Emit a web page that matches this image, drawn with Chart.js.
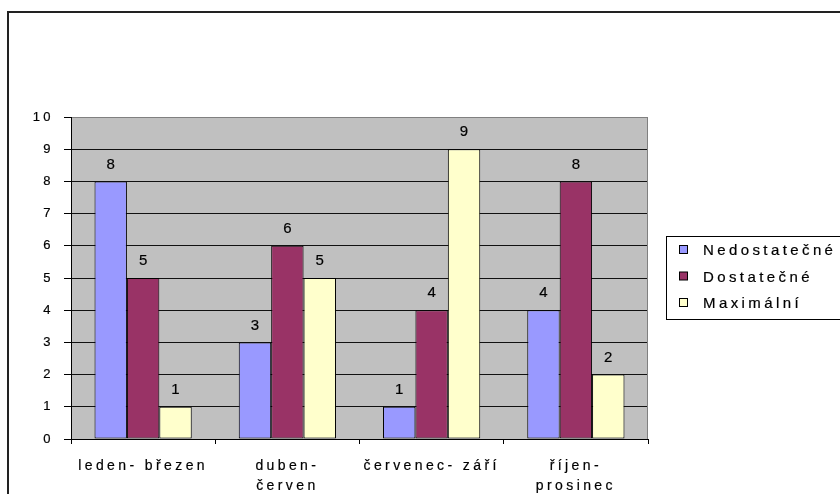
<!DOCTYPE html>
<html>
<head>
<meta charset="utf-8">
<script src="https://cdn.jsdelivr.net/npm/chart.js@4/dist/chart.umd.min.js"></script>
<style>
  html, body { margin: 0; padding: 0; background: #fff; }
  #wrap { width: 840px; height: 494px; }
</style>
</head>
<body>
<div id="wrap"><canvas id="chart" width="840" height="494"></canvas></div>
<script>
// quarters (two labels wrap onto a second line)
var categories = ['leden- březen', ['duben-', 'červen'], 'červenec- září', ['říjen-', 'prosinec']];
var nedostatecne = [8, 3, 1, 4];
var dostatecne = [5, 6, 4, 8];
var maximalni = [1, 5, 9, 2];
var seriesNames = ['Nedostatečné', 'Dostatečné', 'Maximální'];
var seriesColors = ['#9999FF', '#993366', '#FFFFCC'];
var yMin = 0, yMax = 10, yStep = 1;

var FONT = '"Liberation Sans", Arial, sans-serif';
var SPACING = '3.4px';
var STROKE = 0.2;

Chart.defaults.font.family = FONT;
Chart.defaults.color = '#000';

// wide Excel-like letter spacing; canvas resets its state on resize so set it again
var spacing = {
  id: 'spacing',
  beforeUpdate: function (chart) { chart.ctx.letterSpacing = SPACING; },
  beforeDraw: function (chart) { chart.ctx.letterSpacing = SPACING; }
};

// gray plot area, outer frame and the gray right edge
var frame = {
  id: 'frame',
  beforeDraw: function (chart) {
    var ctx = chart.ctx, a = chart.chartArea;
    ctx.save();
    ctx.fillStyle = '#C0C0C0';
    ctx.fillRect(a.left, a.top, a.right - a.left, a.bottom - a.top);
    ctx.strokeStyle = '#222';
    ctx.lineWidth = 2;
    ctx.strokeRect(8, 12, 1000, 1000);
    ctx.restore();
  },
  beforeDatasetsDraw: function (chart) {
    var ctx = chart.ctx, a = chart.chartArea;
    ctx.save();
    ctx.strokeStyle = '#808080';
    ctx.lineWidth = 1;
    ctx.beginPath();
    ctx.moveTo(Math.round(a.right) - 0.5, a.top);
    ctx.lineTo(Math.round(a.right) - 0.5, a.bottom);
    ctx.stroke();
    ctx.restore();
  }
};

function heavyText(ctx, text, x, y) {
  ctx.fillText(text, x, y);
  ctx.lineWidth = STROKE;
  ctx.strokeStyle = '#000';
  ctx.strokeText(text, x, y);
}

// value above each bar
var valueLabels = {
  id: 'valueLabels',
  afterDatasetsDraw: function (chart) {
    var ctx = chart.ctx;
    ctx.save();
    ctx.letterSpacing = SPACING;
    ctx.font = '15px ' + FONT;
    ctx.fillStyle = '#000';
    ctx.textAlign = 'center';
    ctx.textBaseline = 'middle';
    chart.data.datasets.forEach(function (ds, i) {
      chart.getDatasetMeta(i).data.forEach(function (bar, j) {
        heavyText(ctx, String(ds.data[j]), bar.x + 1.7, bar.y - 17);
      });
    });
    ctx.restore();
  }
};

// boxed legend on the right, cut by the edge of the page
var boxLegend = {
  id: 'boxLegend',
  afterDraw: function (chart) {
    var ctx = chart.ctx;
    ctx.save();
    ctx.letterSpacing = SPACING;
    ctx.fillStyle = '#fff';
    ctx.fillRect(666, 236, 300, 83);
    ctx.strokeStyle = '#000';
    ctx.lineWidth = 1;
    ctx.strokeRect(666.5, 236.5, 300, 83);
    ctx.font = '15px ' + FONT;
    ctx.textBaseline = 'middle';
    ctx.textAlign = 'left';
    chart.data.datasets.forEach(function (ds, i) {
      var y = 250 + i * 26.5;
      ctx.fillStyle = ds.backgroundColor;
      ctx.fillRect(679.5, y - 4.5, 8, 8);
      ctx.lineWidth = 1;
      ctx.strokeStyle = '#000';
      ctx.strokeRect(679.5, y - 4.5, 8, 8);
      ctx.fillStyle = '#000';
      heavyText(ctx, ds.label, 703, y + 1);
    });
    ctx.restore();
  }
};

var seriesData = [nedostatecne, dostatecne, maximalni];

new Chart(document.getElementById('chart'), {
  type: 'bar',
  data: {
    labels: categories,
    datasets: seriesNames.map(function (name, i) {
      return {
        label: name,
        data: seriesData[i],
        backgroundColor: seriesColors[i],
        borderColor: '#000',
        borderWidth: 1,
        borderSkipped: false,
        categoryPercentage: 0.674,
        barPercentage: 1
      };
    })
  },
  options: {
    responsive: false,
    animation: false,
    layout: { padding: { top: 117, right: 192, left: 0, bottom: 0 } },
    plugins: {
      legend: { display: false },
      tooltip: { enabled: false }
    },
    scales: {
      x: {
        afterFit: function (scale) { scale.height = 55; },
        grid: {
          offset: true,
          drawOnChartArea: false,
          drawTicks: true,
          tickLength: 5,
          tickColor: '#000'
        },
        border: { color: '#000' },
        ticks: {
          font: { size: 14, lineHeight: 1.43 },
          color: '#000',
          textStrokeColor: '#000',
          textStrokeWidth: STROKE,
          padding: 12,
          maxRotation: 0,
          autoSkip: false
        }
      },
      y: {
        min: yMin,
        max: yMax,
        afterFit: function (scale) { scale.width = 71; },
        grid: {
          color: function (c) { return c.tick && c.tick.value === yMax ? '#808080' : '#111'; },
          tickColor: '#000',
          tickLength: 7
        },
        border: { color: '#000' },
        ticks: {
          stepSize: yStep,
          font: { size: 13 },
          color: '#000',
          textStrokeColor: '#000',
          textStrokeWidth: STROKE,
          padding: 10
        }
      }
    }
  },
  plugins: [spacing, frame, valueLabels, boxLegend]
});
</script>
</body>
</html>
